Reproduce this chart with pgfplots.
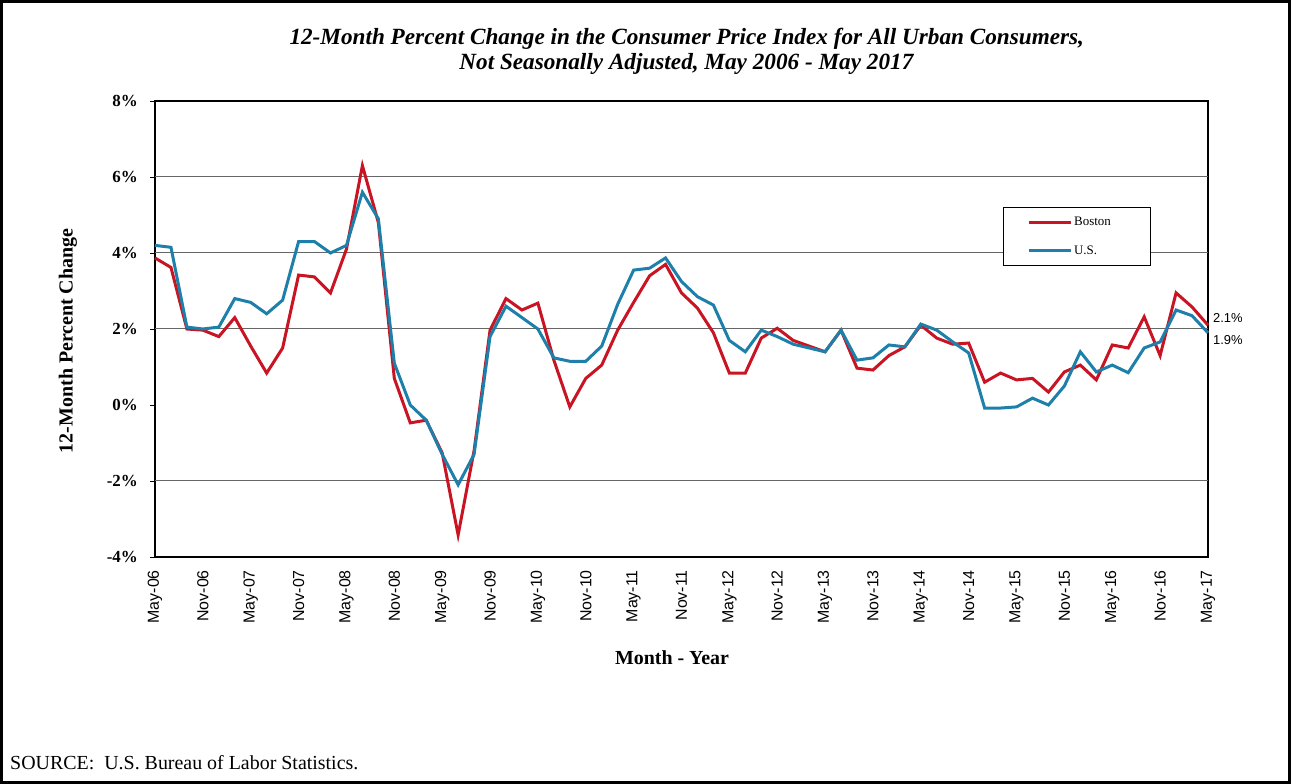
\documentclass[border=0pt]{standalone}
\usepackage{pgfplots}
\pgfplotsset{compat=1.18}
\usepackage{fontspec}
\setmainfont{Liberation Serif}
\setsansfont{Liberation Sans}
\definecolor{bosred}{RGB}{200,20,35}
\definecolor{usblue}{RGB}{30,128,170}

% Boston (bimonthly), month offset from May-06
\pgfplotstableread{
m v
0 3.87
2 3.62
4 2.00
6 1.97
8 1.80
10 2.30
12 1.55
14 0.84
16 1.50
18 3.42
20 3.37
22 2.95
24 4.10
26 6.30
28 4.80
30 0.70
32 -0.47
34 -0.40
36 -1.26
38 -3.42
40 -1.20
42 1.97
44 2.80
46 2.50
48 2.68
50 1.18
52 -0.05
54 0.70
56 1.05
58 1.97
60 2.70
62 3.40
64 3.70
66 2.95
68 2.55
70 1.90
72 0.84
74 0.84
76 1.76
78 2.02
80 1.70
82 1.55
84 1.40
86 1.97
88 0.97
90 0.92
92 1.30
94 1.53
96 2.10
98 1.76
100 1.60
102 1.63
104 0.60
106 0.84
108 0.66
110 0.70
112 0.34
114 0.87
116 1.05
118 0.66
120 1.58
122 1.50
124 2.32
126 1.30
128 2.95
130 2.58
132 2.10
}\boston

% U.S.
\pgfplotstableread{
m v
0 4.20
2 4.15
4 2.05
6 2.00
8 2.05
10 2.80
12 2.70
14 2.40
16 2.76
18 4.30
20 4.30
22 4.00
24 4.20
26 5.60
28 4.90
30 1.10
32 0.00
34 -0.40
36 -1.30
38 -2.10
40 -1.30
42 1.80
44 2.60
46 2.30
48 2.00
50 1.24
52 1.15
54 1.15
56 1.55
58 2.65
60 3.55
62 3.60
64 3.87
66 3.25
68 2.85
70 2.63
72 1.70
74 1.40
76 1.97
78 1.80
80 1.60
82 1.50
84 1.40
86 1.97
88 1.18
90 1.24
92 1.58
94 1.53
96 2.13
98 1.97
100 1.66
102 1.37
104 -0.08
106 -0.08
108 -0.05
110 0.18
112 0.00
114 0.50
116 1.40
118 0.87
120 1.05
122 0.85
124 1.50
126 1.66
128 2.50
130 2.35
132 1.90
}\us

\begin{document}
\begin{tikzpicture}
\useasboundingbox (0,0) rectangle (1291bp,784bp);
\draw[line width=3bp] (1.5bp,1.5bp) rectangle (1289.5bp,782.5bp);

\begin{axis}[
  at={(155bp,227bp)}, anchor=south west,
  width=1053bp, height=456bp, scale only axis,
  xmin=0, xmax=132, ymin=-4, ymax=8,
  clip=false,
  axis line style={black, line width=1.3bp},
  xtick={0,6,...,132},
  xticklabels={May-06,Nov-06,May-07,Nov-07,May-08,Nov-08,May-09,Nov-09,May-10,Nov-10,May-11,Nov-11,May-12,Nov-12,May-13,Nov-13,May-14,Nov-14,May-15,Nov-15,May-16,Nov-16,May-17},
  xtick style={draw=none},
  xticklabel style={rotate=90, anchor=east, inner sep=0pt,
    font=\sffamily\fontsize{16}{16}\selectfont},
  xticklabel shift=8bp,
  ytick={-4,-2,...,8},
  yticklabels={-4\%,-2\%,0\%,2\%,4\%,6\%,8\%},
  yticklabel style={anchor=east, inner sep=0pt,
    font=\bfseries\fontsize{17}{17}\selectfont},
  yticklabel shift=12bp,
  ytick pos=left,
  tick align=outside, major tick length=5bp,
  ytick style={black, line width=0.8bp},
  extra y ticks={-2,2,4,6}, extra y tick labels={},
  extra y tick style={grid=major, major tick length=0pt},
  major grid style={black!60, line width=1bp},
  title={\textbf{\textit{12-Month Percent Change in the Consumer Price Index for All Urban Consumers,}}\\
         \textbf{\textit{Not Seasonally Adjusted, May 2006 - May 2017}}},
  title style={at={(axis description cs:0.505,1.095)}, anchor=center, align=center,
    font=\fontsize{23.3}{25}\selectfont},
  xlabel={\textbf{Month - Year}},
  xlabel style={at={(axis description cs:0.491,-0.2215)}, anchor=center,
    font=\fontsize{20}{20}\selectfont},
  ylabel={\textbf{12-Month Percent Change}},
  ylabel style={at={(axis description cs:-0.0826,0.474)}, anchor=center, rotate=0,
    font=\fontsize{20}{20}\selectfont},
  legend image code/.code={\draw[#1] (0bp,0bp) -- (42bp,0bp);},
  legend style={at={(0.805,0.7675)}, anchor=north west, draw=black, line width=1bp,
    inner xsep=24bp, inner ysep=8bp, row sep=14bp,
    font=\fontsize{13}{13}\selectfont},
  legend cell align=left,
]
\addplot[bosred, line width=3bp] table[x=m, y=v] {\boston};
\addplot[usblue, line width=3bp] table[x=m, y=v] {\us};
\legend{\makebox[50bp][l]{Boston}, \makebox[50bp][l]{U.S.}}
\node[anchor=west, font=\sffamily\fontsize{13}{13}\selectfont, inner sep=0pt, xshift=5bp] at (axis cs:132,2.29) {2.1\%};
\node[anchor=west, font=\sffamily\fontsize{13}{13}\selectfont, inner sep=0pt, xshift=5bp] at (axis cs:132,1.71) {1.9\%};
\end{axis}

\node[anchor=west, inner sep=0pt, font=\fontsize{20}{20}\selectfont] at (10bp,21bp) {SOURCE:\ \ U.S. Bureau of Labor Statistics.};
\end{tikzpicture}
\end{document}
